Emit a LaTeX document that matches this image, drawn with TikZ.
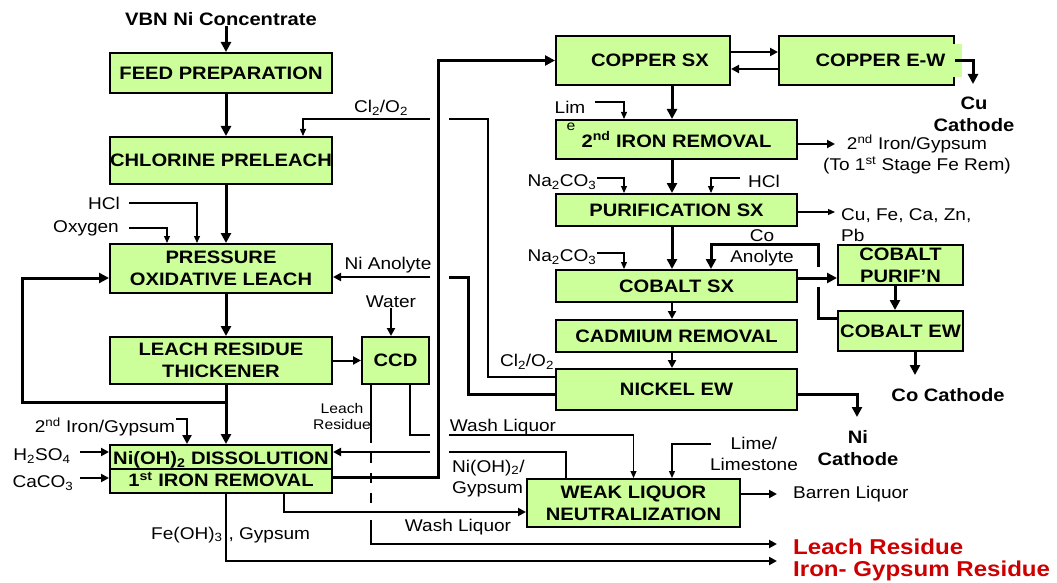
\documentclass[tikz,border=0pt]{standalone}
\usepackage{fontspec}
\setmainfont{Liberation Sans}[FakeStretch=1.12]
\usetikzlibrary{arrows.meta}

\definecolor{boxgreen}{RGB}{204,255,153}
\definecolor{resred}{RGB}{204,0,0}

\newcommand\unitfont{\fontsize{18}{22}\selectfont\bfseries}
\newcommand\lblfont{\fontsize{17}{21}\selectfont}
\newcommand\smlfont{\fontsize{14}{16}\selectfont}
\newcommand\outfont{\fontsize{21.5}{24}\selectfont\bfseries}

\begin{document}
\begin{tikzpicture}[x=1pt, y=-1pt,
  unit/.style={draw, line width=2pt, fill=boxgreen, inner sep=0pt, align=center, font=\unitfont},
  lbl/.style={inner sep=0pt, align=center, font=\lblfont},
  heavy/.style={line width=3pt, -{Triangle[length=10pt,width=10pt]}},
  medium/.style={line width=2pt, -{Triangle[length=8pt,width=8pt]}},
  light/.style={line width=1.2pt, -{Triangle[length=7pt,width=6pt]}}]

\useasboundingbox (0,0) rectangle (1057,583);

% columns of the main flow
\coordinate (lx) at (226,0);
\coordinate (rx) at (672,0);

% Leach train
\node[lbl, font=\unitfont] (vbn) at (221,19) {VBN Ni Concentrate};
\node[unit, minimum width=222pt, minimum height=40pt] (feed) at (221,73) {FEED PREPARATION};
\node[unit, minimum width=222pt, minimum height=47pt] (chlor) at (221,160.5) {CHLORINE PRELEACH};
\node[unit, minimum width=222pt, minimum height=49pt] (pol) at (221,268.5) {PRESSURE\\OXIDATIVE LEACH};
\node[unit, minimum width=222pt, minimum height=47pt] (lrt) at (221,360.5) {LEACH RESIDUE\\THICKENER};
\node[unit, minimum width=67pt, minimum height=47pt] (ccd) at (395.5,360.5) {CCD};
\node[unit, minimum width=222pt, minimum height=48pt] (diss) at (221,469) {Ni(OH)\textsubscript{2} DISSOLUTION\\1\textsuperscript{st} IRON REMOVAL};
\draw[line width=1.5pt] (diss.west) -- (diss.east);

% Refining train
\node[unit, minimum width=174pt, minimum height=49pt] (cusx) at (643,60.5) {\hspace*{14pt}COPPER SX};
\node[unit, minimum width=175pt, minimum height=49pt] (cuew) at (866.5,60.5) {\hspace*{28pt}COPPER E-W};
\fill[boxgreen] (953,44) rectangle (962,77);
\node[unit, minimum width=241pt, minimum height=39pt] (fe2) at (676.5,139.5) {2\textsuperscript{nd} IRON REMOVAL};
\node[unit, minimum width=241pt, minimum height=32pt] (pur) at (676.5,210) {PURIFICATION SX};
\node[unit, minimum width=241pt, minimum height=32pt] (cosx) at (676.5,286) {COBALT SX};
\node[unit, minimum width=241pt, minimum height=32pt] (cd) at (676.5,336) {CADMIUM REMOVAL};
\node[unit, minimum width=241pt, minimum height=41pt] (niew) at (676.5,389.5) {NICKEL EW};
\node[unit, minimum width=125pt, minimum height=40pt] (copur) at (900.5,265) {COBALT\\PURIF’N};
\node[unit, minimum width=125pt, minimum height=40pt] (coew) at (900.5,331) {COBALT EW};
\node[unit, minimum width=213pt, minimum height=48pt] (wln) at (633.5,503) {WEAK LIQUOR\\NEUTRALIZATION};

% Stream labels
\node[lbl] (clo) at (381,108) {Cl\textsubscript{2}/O\textsubscript{2}};
\node[lbl] (hcl) at (104,203) {HCl};
\node[lbl] (oxy) at (86,228) {Oxygen};
\node[lbl] (nia) at (388,265) {Ni Anolyte};
\node[lbl] (water) at (391,302) {Water};
\node[lbl, font=\smlfont] (lres) at (342,416) {Leach\\Residue};
\node[lbl] (fe2g) at (105,427) {2\textsuperscript{nd} Iron/Gypsum};
\node[lbl] (h2so4) at (42,456) {H\textsubscript{2}SO\textsubscript{4}};
\node[lbl] (caco) at (43,483) {CaCO\textsubscript{3}};
\node[lbl, anchor=west] (feoh) at (151,535) {Fe(OH)\textsubscript{3}\hspace{6pt}, Gypsum};
\node[lbl] (wash1) at (503,427) {Wash Liquor};
\node[lbl, align=left, anchor=west] (nigy) at (452,478.5) {Ni(OH)\textsubscript{2}/\\Gypsum};
\node[lbl] (wash2) at (458,527) {Wash Liquor};
\node[lbl] (clo2) at (527,362) {Cl\textsubscript{2}/O\textsubscript{2}};
\node[lbl] (lim) at (570,107) {Lim};
\node[lbl, font=\smlfont] (lime) at (571,127) {e};
\node[lbl] (na1) at (562,182) {Na\textsubscript{2}CO\textsubscript{3}};
\node[lbl] (hcl2) at (764,181) {HCl};
\node[lbl] (fe2out) at (917,154.5) {2\textsuperscript{nd} Iron/Gypsum\\(To 1\textsuperscript{st} Stage Fe Rem)};
\node[lbl, align=left, anchor=west] (imp) at (841,225.5) {Cu, Fe, Ca, Zn,\\Pb};
\node[lbl] (na2) at (562,257) {Na\textsubscript{2}CO\textsubscript{3}};
\node[lbl] (coan) at (762,248) {Co\\Anolyte};
\node[lbl, font=\unitfont] (cucat) at (974,114) {Cu\\Cathode};
\node[lbl, font=\unitfont] (cocat) at (948,395) {Co Cathode};
\node[lbl, font=\unitfont] (nicat) at (858,448) {Ni\\Cathode};
\node[lbl] (limes) at (754,453.5) {Lime/\\Limestone};
\node[lbl, anchor=west] (barren) at (793,494) {Barren Liquor};
\node[lbl, font=\outfont, text=resred, anchor=west] (leachres) at (793,547) {Leach Residue};
\node[lbl, font=\outfont, text=resred, anchor=west] (irongyp) at (793,571) {Iron- Gypsum Residue};

% Free ends and line breaks
\coordinate (loop) at (226,402);  \coordinate (loopL) at (22,402);
\coordinate (hclin) at (129,203); \coordinate (oxin) at (129,228);
\coordinate (clC) at (488,119);   \coordinate (clA) at (449,119);  \coordinate (clB) at (430,119);
\coordinate (anC) at (468,277);   \coordinate (anA) at (449,277);  \coordinate (anB) at (430,277);
\coordinate (lrA) at (371,443);   \coordinate (lrB) at (371,453);
\coordinate (lrC) at (371,503);   \coordinate (lrD) at (371,520);  \coordinate (lrtip) at (777,544);
\coordinate (wlA) at (430,435);   \coordinate (wlB) at (449,435);
\coordinate (ngA) at (449,452);   \coordinate (ngB) at (430,452);
\coordinate (igtip) at (777,561);
\coordinate (h2in) at (80,452);   \coordinate (cain) at (80,478);  \coordinate (fe2in) at (176,419);
\coordinate (cutip) at (973,84);  \coordinate (limin) at (595,102);
\coordinate (fe2tip) at (835,144);
\coordinate (na1in) at (597,178); \coordinate (hcl2in) at (740,178); \coordinate (purtip) at (835,212);
\coordinate (na2in) at (597,253);
\coordinate (caA) at (818,287);   \coordinate (caB) at (818,267);  \coordinate (caT) at (818,244);
\coordinate (cotip) at (915,375); \coordinate (nitip) at (857,417);
\coordinate (limein) at (711,444); \coordinate (bltip) at (777,494);

% Main flow, leach train
\draw[heavy] (vbn.south -| lx) -- (feed.north -| lx);
\foreach \a/\b in {feed/chlor, chlor/pol, pol/lrt, lrt/diss}
  \draw[heavy] (\a.south -| lx) -- (\b.north -| lx);
\draw[heavy] (loop) -- (loopL) |- ([yshift=-9.5pt]pol.west);
\draw[light] (hclin) -| ([xshift=-24pt]pol.north);
\draw[light] (oxin) -| ([xshift=-54pt]pol.north);
\draw[medium] (lrt.east) -- (ccd.west);
\draw[medium] (water.south) -- (water.south |- ccd.north);

% Reagents to Ni(OH)2 dissolution
\draw[medium] (h2in) -- (h2in -| diss.west);
\draw[medium] (cain) -- (cain -| diss.west);
\draw[line width=2.5pt, -{Triangle[length=9pt,width=9pt]}] (fe2in) -| ([xshift=-34pt]diss.north);

% Recycles across the riser
\draw[light, -] ([yshift=12.5pt]niew.west) -| (clC) -- (clA);
\draw[light] (clB) -| ([xshift=82pt]chlor.north);
\draw[heavy, -] ([yshift=-4.5pt]niew.west) -| (anC) -- (anA);
\draw[medium] (anB) -- (anB -| pol.east);
\draw[heavy] ([yshift=-8pt]diss.east) -| ([xshift=-117pt]cusx.west) -- (cusx.west);

% CCD and residues
\draw[medium, -] ([xshift=-24.5pt]ccd.south) -- (lrA);
\draw[medium, -, dash pattern=on 10pt off 10pt] (lrB) -- (lrC);
\draw[medium] (lrD) |- (lrtip);
\draw[light, -] ([xshift=14.5pt]ccd.south) |- (wlA);
\draw[light] (wlB) -| (wln.north);
\draw[medium, -] ([xshift=-67.5pt]wln.north) |- (ngA);
\draw[medium] (ngB) -- (ngB -| diss.east);
\draw[medium] ([xshift=63pt]diss.south) |- ([yshift=-9pt]wln.west);
\draw[medium] (diss.south -| lx) |- (igtip);

% Copper
\draw[medium] ([yshift=8.5pt]cusx.east) -- ([yshift=8.5pt]cuew.west);
\draw[medium] ([yshift=-8.5pt]cuew.west) -- ([yshift=-8.5pt]cusx.east);
\draw[heavy] (cuew.east) -| (cutip);

% Main flow, refining train
\foreach \a/\b in {cusx/fe2, fe2/pur, pur/cosx}
  \draw[heavy] (\a.south -| rx) -- (\b.north -| rx);
\foreach \a/\b in {cosx/cd, cd/niew}
  \draw[medium] (\a.south -| rx) -- (\b.north -| rx);
\draw[light] (limin) -| ([xshift=-52.5pt]fe2.north);
\draw[medium] ([yshift=-4.5pt]fe2.east) -- (fe2tip);
\draw[light] (na1in) -| ([xshift=-52.5pt]pur.north);
\draw[light] (hcl2in) -| ([xshift=34.5pt]pur.north);
\draw[light] ([yshift=-2pt]pur.east) -- (purtip);
\draw[light] (na2in) -| ([xshift=-52.5pt]cosx.north);

% Cobalt
\draw[heavy, -] ([yshift=13pt]coew.west) -| (caA);
\draw[heavy] (caB) -- (caT) -| ([xshift=34.5pt]cosx.north);
\draw[heavy] ([yshift=8pt]cosx.east) -- ([yshift=-13pt]copur.west);
\draw[heavy] ([xshift=-5.5pt]copur.south) -- ([xshift=-5.5pt]coew.north);
\draw[heavy] ([xshift=14.5pt]coew.south) -- (cotip);

% Nickel and weak liquor
\draw[heavy] ([yshift=-4.5pt]niew.east) -| (nitip);
\draw[light] (limein) -| ([xshift=38.5pt]wln.north);
\draw[medium] ([yshift=9pt]wln.east) -- (bltip);

\end{tikzpicture}
\end{document}
